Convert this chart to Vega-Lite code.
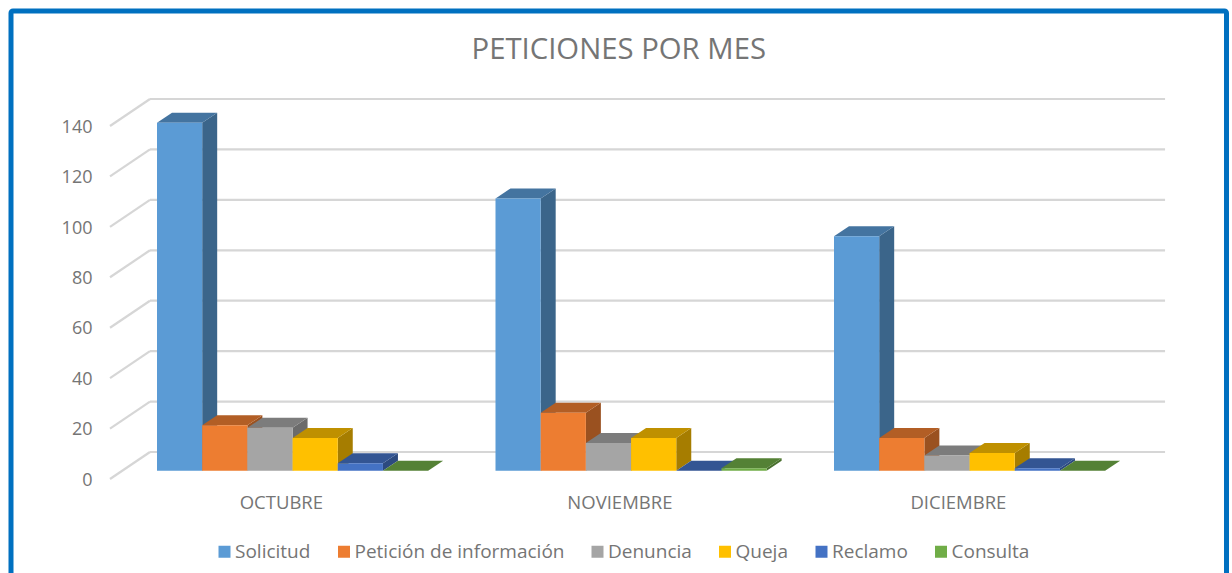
{
"$schema":"https://vega.github.io/schema/vega-lite/v6.json",
"autosize":{"type":"none"},
"width":1215.5,"height":570,
"padding":{"left":11,"top":11,"right":5.5,"bottom":-8},
"background":"white",
"view":{"stroke":"#0070C0","strokeWidth":5,"cornerRadius":2,"fill":"white"},
"config":{"font":"Open Sans"},
"title":{"text":"PETICIONES POR MES","font":"Open Sans","fontSize":29.3,"fontWeight":"normal","color":"#757575","anchor":"middle","frame":"group","baseline":"middle","offset":0,"dy":68},
"datasets":{
"peticiones":[
{"mes":"OCTUBRE","serie":"Solicitud","valor":138},
{"mes":"OCTUBRE","serie":"Petición de información","valor":18},
{"mes":"OCTUBRE","serie":"Denuncia","valor":17},
{"mes":"OCTUBRE","serie":"Queja","valor":13},
{"mes":"OCTUBRE","serie":"Reclamo","valor":3},
{"mes":"OCTUBRE","serie":"Consulta","valor":0},
{"mes":"NOVIEMBRE","serie":"Solicitud","valor":108},
{"mes":"NOVIEMBRE","serie":"Petición de información","valor":23},
{"mes":"NOVIEMBRE","serie":"Denuncia","valor":11},
{"mes":"NOVIEMBRE","serie":"Queja","valor":13},
{"mes":"NOVIEMBRE","serie":"Reclamo","valor":0},
{"mes":"NOVIEMBRE","serie":"Consulta","valor":1},
{"mes":"DICIEMBRE","serie":"Solicitud","valor":93},
{"mes":"DICIEMBRE","serie":"Petición de información","valor":13},
{"mes":"DICIEMBRE","serie":"Denuncia","valor":6},
{"mes":"DICIEMBRE","serie":"Queja","valor":7},
{"mes":"DICIEMBRE","serie":"Reclamo","valor":1},
{"mes":"DICIEMBRE","serie":"Consulta","valor":0}
],
"niveles":[{"nivel":0},{"nivel":20},{"nivel":40},{"nivel":60},{"nivel":80},{"nivel":100},{"nivel":120},{"nivel":140}]
},
"encoding":{
 "x":{"type":"quantitative","scale":{"domain":[0,3],"range":[146,1161.5],"nice":false,"zero":false}},
 "y":{"type":"quantitative","scale":{"domain":[0,140],"range":[459.7,106.7],"nice":false,"zero":false}}
},
"layer":[
{"data":{"name":"niveles"},
 "mark":{"type":"rule","stroke":"#d6d6d6","strokeWidth":2.2,"yOffset":-18.7},
 "encoding":{
  "x":{"datum":-0.0207,"type":"quantitative","scale":{"domain":[0,3],"range":[146,1161.5],"nice":false,"zero":false},
   "axis":{"values":[0.366,1.366,2.366],"title":null,"domain":false,"ticks":false,"grid":false,"labelExpr":"['OCTUBRE','NOVIEMBRE','DICIEMBRE'][floor(datum.value)]","labelFontSize":18.5,"labelColor":"#757575","labelFont":"Open Sans","labelPadding":0,"offset":-79,"labelBaseline":"middle"}},
  "x2":{"datum":2.978},
  "y":{"field":"nivel","type":"quantitative","scale":{"domain":[0,140],"range":[459.7,106.7],"nice":false,"zero":false},
   "axis":{"values":[0,20,40,60,80,100,120,140],"title":null,"domain":false,"ticks":false,"grid":false,"labelFontSize":18,"labelColor":"#757575","labelFont":"Open Sans","labelPadding":0,"offset":-81,"labelOffset":9.5}}
 }},
{"data":{"name":"niveles"},
 "mark":{"type":"rule","stroke":"#d6d6d6","strokeWidth":2.2,"yOffset":8.3,"y2Offset":-18.7},
 "encoding":{
  "x":{"datum":-0.1388,"type":"quantitative"},
  "x2":{"datum":-0.0207},
  "y":{"field":"nivel","type":"quantitative"},
  "y2":{"field":"nivel"}
 }},
{"data":{"name":"peticiones"},
 "transform":[
  {"calculate":"indexof(['OCTUBRE','NOVIEMBRE','DICIEMBRE'],datum.mes)+indexof(['Solicitud','Petición de información','Denuncia','Queja','Reclamo','Consulta'],datum.serie)*0.1335","as":"x0"},
  {"calculate":"[0,1]","as":"k"},{"flatten":["k"]},
  {"calculate":"datum.x0+0.1335+datum.k*0.0443","as":"xl"},
  {"calculate":"datum.valor+datum.k*3.97","as":"alto"},
  {"calculate":"datum.k*3.97","as":"base"}
 ],
 "mark":{"type":"area","orient":"vertical","opacity":1},
 "encoding":{
  "x":{"field":"xl","type":"quantitative"},
  "y":{"field":"alto","type":"quantitative","stack":null},
  "y2":{"field":"base"},
  "detail":{"field":"x0"},
  "color":{"field":"serie","type":"nominal","legend":null,"scale":{"domain":["Solicitud","Petición de información","Denuncia","Queja","Reclamo","Consulta"],"range":["#3B658A","#9A5120","#6B6B6B","#A67D00","#2C4A7F","#49702E"]}}
 }},
{"data":{"name":"peticiones"},
 "transform":[
  {"calculate":"indexof(['OCTUBRE','NOVIEMBRE','DICIEMBRE'],datum.mes)+indexof(['Solicitud','Petición de información','Denuncia','Queja','Reclamo','Consulta'],datum.serie)*0.1335","as":"x0"},
  {"calculate":"[0,1]","as":"k"},{"flatten":["k"]},
  {"calculate":"datum.x0+datum.k*0.0443","as":"xa"},
  {"calculate":"datum.x0+0.1335+datum.k*0.0443","as":"xb"},
  {"calculate":"datum.valor+datum.k*3.97","as":"alto"}
 ],
 "mark":{"type":"area","orient":"horizontal","opacity":1},
 "encoding":{
  "y":{"field":"alto","type":"quantitative"},
  "x":{"field":"xa","type":"quantitative","stack":null},
  "x2":{"field":"xb"},
  "detail":{"field":"x0"},
  "color":{"field":"serie","type":"nominal","legend":null,"scale":{"domain":["Solicitud","Petición de información","Denuncia","Queja","Reclamo","Consulta"],"range":["#4474A0","#B25E25","#7C7C7C","#BF9000","#335593","#548135"]}}
 }},
{"data":{"name":"peticiones"},
 "transform":[
  {"calculate":"indexof(['OCTUBRE','NOVIEMBRE','DICIEMBRE'],datum.mes)+indexof(['Solicitud','Petición de información','Denuncia','Queja','Reclamo','Consulta'],datum.serie)*0.1335","as":"x0"},
  {"calculate":"datum.x0+0.1335","as":"x1"}
 ],
 "mark":{"type":"rect","opacity":1},
 "encoding":{
  "x":{"field":"x0","type":"quantitative"},
  "x2":{"field":"x1"},
  "y":{"field":"valor","type":"quantitative","stack":null},
  "y2":{"datum":0},
  "color":{"field":"serie","type":"nominal","scale":{"domain":["Solicitud","Petición de información","Denuncia","Queja","Reclamo","Consulta"],"range":["#5B9BD5","#ED7D31","#A5A5A5","#FFC000","#4472C4","#70AD47"]},
   "legend":{"title":null,"orient":"none","legendX":204,"legendY":531,"direction":"horizontal","columns":6,"symbolType":"square","symbolSize":144,"symbolStrokeWidth":0,"labelFontSize":19,"labelFont":"Open Sans","labelColor":"#757575","labelOffset":1,"columnPadding":23.5,"labelLimit":300}}
 }}
],
"resolve":{"scale":{"color":"independent"}}
}
